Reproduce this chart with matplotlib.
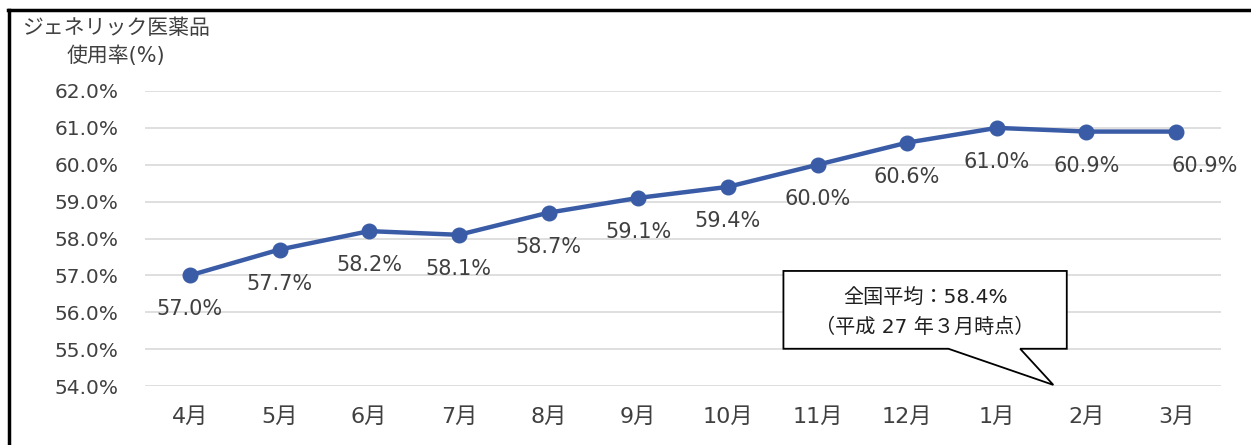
import matplotlib.pyplot as plt
from matplotlib.patches import Polygon
from matplotlib.lines import Line2D

plt.rcParams['font.family'] = ['Noto Sans CJK JP', 'DejaVu Sans']

months = ["4月", "5月", "6月", "7月", "8月", "9月", "10月", "11月", "12月", "1月", "2月", "3月"]
usage_rate = [57.0, 57.7, 58.2, 58.1, 58.7, 59.1, 59.4, 60.0, 60.6, 61.0, 60.9, 60.9]
y_ticks = [54.0, 55.0, 56.0, 57.0, 58.0, 59.0, 60.0, 61.0, 62.0]
national_avg = 58.4

line_color = '#3A5CA6'
text_color = '#404040'
latin_first = ['DejaVu Sans', 'Noto Sans CJK JP']

fig = plt.figure(figsize=(12.51, 4.45), dpi=100)
ax = fig.add_axes([145 / 1251, 1 - 386 / 445, (1221 - 145) / 1251, (386 - 91) / 445])

x = list(range(len(months)))
ax.plot(x, usage_rate, color=line_color, lw=3.2, marker='o', ms=10.5, zorder=3)

# value labels under each point; the last one sits off to the right
for i, v in enumerate(usage_rate):
    dx = 29 if i == len(usage_rate) - 1 else 0
    ax.annotate(f"{v:.1f}%", (i, v), xytext=(dx, -34), textcoords='offset pixels',
                ha='center', va='center', fontsize=15, color=text_color,
                family=['DejaVu Sans'])

ax.set_xlim(-0.5, len(months) - 0.5)
ax.set_ylim(54.0, 62.0)
ax.set_yticks(y_ticks)
ax.set_yticklabels([f"{t:.1f}%" for t in y_ticks], fontsize=14.5, color=text_color,
                   family=['DejaVu Sans'])
ax.set_xticks(x)
ax.set_xticklabels(months, fontsize=16, color=text_color, family=latin_first)
ax.tick_params(length=0, pad=19, axis='y')
ax.tick_params(length=0, pad=15, axis='x')
ax.grid(axis='y', color='#D9D9D9', lw=1.2)
ax.set_axisbelow(True)
for s in ax.spines.values():
    s.set_visible(False)

# callout box with tail
box = [(6.62, 57.12), (9.78, 57.12), (9.78, 55.01), (9.26, 55.01), (9.63, 54.03),
       (8.46, 55.01), (6.62, 55.01)]
ax.add_patch(Polygon(box, closed=True, facecolor='white', edgecolor='black', lw=1.3,
                     zorder=4, clip_on=False))
ax.text(8.2, 56.4, f"全国平均：{national_avg}%", ha='center', va='center', fontsize=14.5,
        color='#202020', zorder=5, family=latin_first)
ax.text(8.2, 55.6, "（平成 27 年３月時点）", ha='center', va='center', fontsize=14.5,
        color='#202020', zorder=5, family=latin_first)

# axis title in the top-left corner
fig.text(22 / 1251, 1 - 28 / 445, "ジェネリック医薬品", ha='left', va='center',
         fontsize=15, color=text_color)
fig.text(116 / 1251, 1 - 56 / 445, "使用率(%)", ha='center', va='center',
         fontsize=15, color=text_color, family=latin_first)

# frame edges
fig.add_artist(Line2D([9 / 1251, 9 / 1251], [0, 1 - 10 / 445], color='black', lw=2.5))
fig.add_artist(Line2D([8 / 1251, 1], [1 - 10 / 445, 1 - 10 / 445], color='black', lw=2.5))

fig.savefig("out.png", dpi=100)
